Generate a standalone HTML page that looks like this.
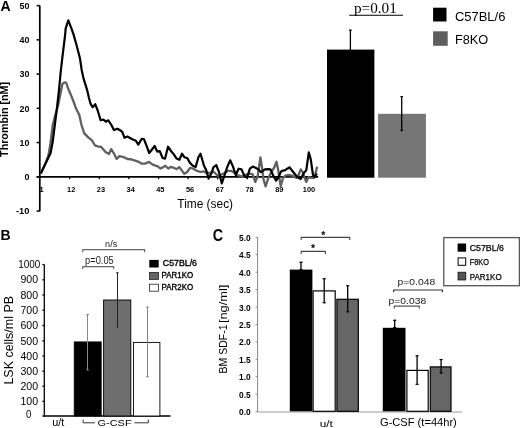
<!DOCTYPE html>
<html><head><meta charset="utf-8"><style>
html,body{margin:0;padding:0;background:#fff;width:520px;height:428px;overflow:hidden;}
svg{display:block;font-family:"Liberation Sans", sans-serif;will-change:transform;}
</style></head><body>
<svg width="520" height="428" viewBox="0 0 520 428">
<rect width="520" height="428" fill="#fff"/>
<text x="0.4" y="10.7" font-size="14.1" font-weight="bold">A</text>
<line x1="39.8" y1="5.6" x2="39.8" y2="211.2" stroke="#000" stroke-width="1.7"/>
<line x1="36.6" y1="5.6" x2="39.8" y2="5.6" stroke="#000" stroke-width="1.5"/>
<text x="29.4" y="9.0" font-size="9.4" font-weight="bold" textLength="9.9" lengthAdjust="spacingAndGlyphs" text-anchor="end">50</text>
<line x1="36.6" y1="39.84" x2="39.8" y2="39.84" stroke="#000" stroke-width="1.5"/>
<text x="29.4" y="43.24" font-size="9.4" font-weight="bold" textLength="9.9" lengthAdjust="spacingAndGlyphs" text-anchor="end">40</text>
<line x1="36.6" y1="74.08" x2="39.8" y2="74.08" stroke="#000" stroke-width="1.5"/>
<text x="29.4" y="77.48" font-size="9.4" font-weight="bold" textLength="9.9" lengthAdjust="spacingAndGlyphs" text-anchor="end">30</text>
<line x1="36.6" y1="108.32" x2="39.8" y2="108.32" stroke="#000" stroke-width="1.5"/>
<text x="29.4" y="111.72" font-size="9.4" font-weight="bold" textLength="9.9" lengthAdjust="spacingAndGlyphs" text-anchor="end">20</text>
<line x1="36.6" y1="142.56" x2="39.8" y2="142.56" stroke="#000" stroke-width="1.5"/>
<text x="29.4" y="145.96" font-size="9.4" font-weight="bold" textLength="9.9" lengthAdjust="spacingAndGlyphs" text-anchor="end">10</text>
<line x1="36.6" y1="176.8" x2="39.8" y2="176.8" stroke="#000" stroke-width="1.5"/>
<text x="29.4" y="180.2" font-size="9.4" font-weight="bold" textLength="5.0" lengthAdjust="spacingAndGlyphs" text-anchor="end">0</text>
<line x1="36.6" y1="211.04" x2="39.8" y2="211.04" stroke="#000" stroke-width="1.5"/>
<text x="29.4" y="214.44" font-size="9.4" font-weight="bold" textLength="13.5" lengthAdjust="spacingAndGlyphs" text-anchor="end">-10</text>
<line x1="36.6" y1="176.8" x2="318.2" y2="176.8" stroke="#000" stroke-width="1.7"/>
<text x="41.48" y="192" font-size="7.4" font-weight="bold" text-anchor="middle">1</text>
<line x1="69.7" y1="176.8" x2="69.7" y2="179.2" stroke="#000" stroke-width="1.3"/>
<text x="71.2" y="192" font-size="7.4" font-weight="bold" text-anchor="middle">12</text>
<line x1="99.3" y1="176.8" x2="99.3" y2="179.2" stroke="#000" stroke-width="1.3"/>
<text x="100.92" y="192" font-size="7.4" font-weight="bold" text-anchor="middle">23</text>
<line x1="128.9" y1="176.8" x2="128.9" y2="179.2" stroke="#000" stroke-width="1.3"/>
<text x="130.64" y="192" font-size="7.4" font-weight="bold" text-anchor="middle">34</text>
<line x1="158.5" y1="176.8" x2="158.5" y2="179.2" stroke="#000" stroke-width="1.3"/>
<text x="160.37" y="192" font-size="7.4" font-weight="bold" text-anchor="middle">45</text>
<line x1="188.1" y1="176.8" x2="188.1" y2="179.2" stroke="#000" stroke-width="1.3"/>
<text x="190.09" y="192" font-size="7.4" font-weight="bold" text-anchor="middle">56</text>
<line x1="217.7" y1="176.8" x2="217.7" y2="179.2" stroke="#000" stroke-width="1.3"/>
<text x="219.81" y="192" font-size="7.4" font-weight="bold" text-anchor="middle">67</text>
<line x1="247.31" y1="176.8" x2="247.31" y2="179.2" stroke="#000" stroke-width="1.3"/>
<text x="249.53" y="192" font-size="7.4" font-weight="bold" text-anchor="middle">78</text>
<line x1="276.91" y1="176.8" x2="276.91" y2="179.2" stroke="#000" stroke-width="1.3"/>
<text x="279.25" y="192" font-size="7.4" font-weight="bold" text-anchor="middle">89</text>
<line x1="306.51" y1="176.8" x2="306.51" y2="179.2" stroke="#000" stroke-width="1.3"/>
<text x="308.98" y="192" font-size="7.4" font-weight="bold" text-anchor="middle">100</text>
<text x="177.3" y="207.9" font-size="12.4" textLength="55.8" lengthAdjust="spacingAndGlyphs">Time (sec)</text>
<text x="8.5" y="156.9" font-size="10.2" font-weight="bold" textLength="75.0" lengthAdjust="spacingAndGlyphs" transform="rotate(-90 8.5 156.9)">Thrombin [nM]</text>
<polyline points="40.8,173.4 45.8,162.5 48.4,155.4 50.5,143.2 52.7,125 55.0,116 58.2,105 62.4,84 64.1,82.6 65.5,82.3 66.5,83.5 68,88.2 72.2,98 76.4,109.3 79.3,114.9 81.5,125 84.3,133.4 88.5,137.6 92,140.4 94.8,145.3 97.8,146.3 101.3,147 105.5,151.9 109,154 111.1,149.1 113.9,153.3 116.7,158.9 119.5,156.1 123.7,157.1 127.5,159 131.2,159.4 135.9,160.8 138.7,161.8 141.5,163.6 145.2,163.6 149,161.8 152.7,164.6 155.6,165.7 157.7,166.4 160.5,168.5 163.3,167.1 165.4,165.7 168.2,168.5 171,166.8 173.8,167.8 176.6,169.2 179.2,167.1 181.5,169.9 184.3,173.8 187.2,172 190,167.8 192.8,168.5 196.3,170.6 200.5,172 203.3,171.3 206.1,172.7 210.6,173 213.4,171.5 216.2,174.3 219,176.5 221.8,174.3 224.6,173 228.1,170.8 230.9,170.8 233.7,172.2 236.5,175 239.3,175.7 242.2,176.5 245,175 247.1,174.3 249.9,173.6 252.7,174.3 255.2,182 257.6,176.5 260.4,157.5 262.5,170.8 263.5,179.3 265.6,186.3 268.4,177.9 271.2,172.2 274,168 276.5,161.7 278.2,170.1 280.7,186.3 283.1,177.9 285.2,175.7 288,175 290.8,175.3 293.6,176.2 296.2,177.9 298.6,175 300.7,169.4 302.8,172.2 304.6,177.9 306.3,182 308.4,177.2 311.2,177.9 314,177.9 315.4,173.6 317.2,166.6" fill="none" stroke="#606060" stroke-width="2.3" stroke-linejoin="round" />
<polyline points="40.8,173.4 50.6,153 52.7,141.8 54.3,129 56.8,109.3 58.9,91 60.6,73 62.4,57.1 65,36 65.7,28.3 68.3,20.3 71.1,27.6 73.6,34.6 76.7,45.8 80,58.5 81.7,70 83.5,78.4 87,89.6 89,98 90.5,103.6 92.6,107.2 95.2,104.2 97.7,110.5 100.6,120.3 103.4,119.6 105.9,121.7 108.3,120.3 111.1,124.5 113.9,130.1 117.4,128.7 120.9,130.8 122.3,131.9 124.5,137.8 127.4,136.5 131.8,139 135.8,140.7 138.3,144.7 141.7,138.8 143.9,139 146.6,145.9 149.2,153 152.2,149.2 154.7,146 157.2,151.6 159.7,151 162.6,158 165.1,158.6 168,146.7 171,151 173.8,154.4 176.6,158.6 179.4,159.8 182,153.7 184.3,157.2 187.2,158 190,162.9 192.8,165.7 195.6,167.1 198.4,157.2 200.5,153.7 204,165.7 206.1,169.9 208.6,178.6 211.3,173.6 213.4,167.3 216.2,165 219,172.2 221.8,183.5 224.6,175 227.4,166.6 230.2,160.3 233,166.6 235.8,175 238.6,168.7 241.5,169.4 244.3,175.7 247.1,177.6 249.9,168.7 252.7,166.6 255.5,167.8 258.3,169.4 261.1,172.2 264.9,169.4 267.7,169.2 270.5,169.4 273.3,175.7 276.1,180.7 278.2,177.9 281,171.5 283.1,170.6 285.2,170.1 287.3,168.7 289.7,167.3 292.2,170.8 295,174.3 297.6,177.2 300.7,179 303.5,173.6 306.3,170.1 308.8,152.3 310.8,159.6 313,175 314.7,177.2 316.8,173.6" fill="none" stroke="#000" stroke-width="2.2" stroke-linejoin="round" />
<rect x="327" y="49.6" width="47.4" height="128.1" fill="#000"/>
<line x1="350.4" y1="29.8" x2="350.4" y2="50" stroke="#000" stroke-width="1.3"/>
<line x1="349.1" y1="30.2" x2="351.7" y2="30.2" stroke="#000" stroke-width="1.2"/>
<rect x="378.1" y="113.8" width="47.8" height="63.9" fill="#767676"/>
<line x1="401.7" y1="96.2" x2="401.7" y2="130.9" stroke="#000" stroke-width="1.3"/>
<line x1="400.4" y1="96.6" x2="403" y2="96.6" stroke="#000" stroke-width="1.2"/>
<line x1="400.4" y1="130.5" x2="403" y2="130.5" stroke="#000" stroke-width="1.2"/>
<text x="354.0" y="12.8" font-size="14.4" textLength="42.8" lengthAdjust="spacingAndGlyphs" font-family='"Liberation Serif", serif'>p=0.01</text>
<line x1="349.2" y1="15.2" x2="403.1" y2="15.2" stroke="#000" stroke-width="1.1"/>
<rect x="433.1" y="7.7" width="13.4" height="13.8" fill="#000"/>
<rect x="433.1" y="31.3" width="14.6" height="14.5" fill="#5e5e5e"/>
<text x="454.9" y="20.7" font-size="12.2" textLength="50.5" lengthAdjust="spacingAndGlyphs">C57BL/6</text>
<text x="454.9" y="43.9" font-size="12.2" textLength="33.4" lengthAdjust="spacingAndGlyphs">F8KO</text>
<text x="0.4" y="240.1" font-size="14.0" font-weight="bold">B</text>
<line x1="44.3" y1="264.5" x2="44.3" y2="416.5" stroke="#000" stroke-width="1.3"/>
<line x1="42.3" y1="264.5" x2="44.3" y2="264.5" stroke="#000" stroke-width="1.2"/>
<text x="29.3" y="268.1" font-size="10" textLength="22.1" lengthAdjust="spacingAndGlyphs" text-anchor="middle">1000</text>
<line x1="42.3" y1="279.8" x2="44.3" y2="279.8" stroke="#000" stroke-width="1.2"/>
<text x="29.3" y="283.4" font-size="10" textLength="17.6" lengthAdjust="spacingAndGlyphs" text-anchor="middle">900</text>
<line x1="42.3" y1="295" x2="44.3" y2="295" stroke="#000" stroke-width="1.2"/>
<text x="29.3" y="298.6" font-size="10" textLength="17.6" lengthAdjust="spacingAndGlyphs" text-anchor="middle">800</text>
<line x1="42.3" y1="310.2" x2="44.3" y2="310.2" stroke="#000" stroke-width="1.2"/>
<text x="29.3" y="313.8" font-size="10" textLength="17.6" lengthAdjust="spacingAndGlyphs" text-anchor="middle">700</text>
<line x1="42.3" y1="325.5" x2="44.3" y2="325.5" stroke="#000" stroke-width="1.2"/>
<text x="29.3" y="329.1" font-size="10" textLength="17.6" lengthAdjust="spacingAndGlyphs" text-anchor="middle">600</text>
<line x1="42.3" y1="340.9" x2="44.3" y2="340.9" stroke="#000" stroke-width="1.2"/>
<text x="29.3" y="344.5" font-size="10" textLength="17.6" lengthAdjust="spacingAndGlyphs" text-anchor="middle">500</text>
<line x1="42.3" y1="356.1" x2="44.3" y2="356.1" stroke="#000" stroke-width="1.2"/>
<text x="29.3" y="359.7" font-size="10" textLength="17.6" lengthAdjust="spacingAndGlyphs" text-anchor="middle">400</text>
<line x1="42.3" y1="371.2" x2="44.3" y2="371.2" stroke="#000" stroke-width="1.2"/>
<text x="29.3" y="374.8" font-size="10" textLength="17.6" lengthAdjust="spacingAndGlyphs" text-anchor="middle">300</text>
<line x1="42.3" y1="386.2" x2="44.3" y2="386.2" stroke="#000" stroke-width="1.2"/>
<text x="29.3" y="389.8" font-size="10" textLength="17.6" lengthAdjust="spacingAndGlyphs" text-anchor="middle">200</text>
<line x1="42.3" y1="401.3" x2="44.3" y2="401.3" stroke="#000" stroke-width="1.2"/>
<text x="29.3" y="404.9" font-size="10" textLength="17.6" lengthAdjust="spacingAndGlyphs" text-anchor="middle">100</text>
<line x1="42.3" y1="416" x2="44.3" y2="416" stroke="#000" stroke-width="1.2"/>
<text x="28.6" y="417.6" font-size="10" textLength="5.3" lengthAdjust="spacingAndGlyphs" text-anchor="middle">0</text>
<line x1="43.7" y1="416.0" x2="170.5" y2="416.0" stroke="#000" stroke-width="1.4"/>
<text x="13.0" y="384.6" font-size="12.2" textLength="88.6" lengthAdjust="spacingAndGlyphs" transform="rotate(-90 13.0 384.6)">LSK cells/ml PB</text>
<rect x="74.2" y="341.9" width="27" height="74.1" fill="#000" stroke="#000" stroke-width="0.8"/>
<rect x="103.6" y="300.0" width="27.2" height="116.0" fill="#6e6e6e" stroke="#000" stroke-width="0.9"/>
<rect x="133.5" y="342.4" width="26.4" height="73.6" fill="#fff" stroke="#000" stroke-width="0.9"/>
<line x1="87.5" y1="314.3" x2="87.5" y2="370.3" stroke="#8a8a8a" stroke-width="1.0"/>
<line x1="86.2" y1="314.6" x2="89" y2="314.6" stroke="#777" stroke-width="0.9"/>
<line x1="86.2" y1="369.9" x2="89" y2="369.9" stroke="#8a8a8a" stroke-width="0.9"/>
<line x1="117.5" y1="272.4" x2="117.5" y2="327.5" stroke="#222" stroke-width="1.0"/>
<line x1="115.9" y1="272.7" x2="118.7" y2="272.7" stroke="#333" stroke-width="0.9"/>
<line x1="116.2" y1="327.2" x2="118.4" y2="327.2" stroke="#333" stroke-width="0.9"/>
<line x1="147.5" y1="306.8" x2="147.5" y2="377.1" stroke="#858585" stroke-width="1.0"/>
<line x1="146.1" y1="307.1" x2="148.9" y2="307.1" stroke="#777" stroke-width="0.9"/>
<line x1="146.1" y1="376.8" x2="148.9" y2="376.8" stroke="#777" stroke-width="0.9"/>
<polyline points="82.7,252.2 82.7,249.7 144.6,249.7 144.6,252.2" fill="none" stroke="#666" stroke-width="1.2" stroke-linejoin="round" />
<polyline points="82.7,269 82.7,266.7 113.7,266.7 113.7,269" fill="none" stroke="#666" stroke-width="1.2" stroke-linejoin="round" />
<text x="105.1" y="247.0" font-size="9.6" textLength="12.1" lengthAdjust="spacingAndGlyphs" fill="#222">n/s</text>
<text x="85.1" y="264.1" font-size="10" textLength="28.6" lengthAdjust="spacingAndGlyphs" fill="#222">p=0.05</text>
<rect x="149.3" y="259.9" width="9.4" height="7.6" fill="#000"/>
<rect x="149.5" y="272.4" width="9.0" height="7.0" fill="#666" stroke="#222" stroke-width="0.8"/>
<rect x="149.5" y="284.2" width="9.0" height="7.0" fill="#fff" stroke="#222" stroke-width="0.8"/>
<text x="162.8" y="265.8" font-size="8.2" textLength="34.2" lengthAdjust="spacingAndGlyphs" stroke="#000" stroke-width="0.35">C57BL/6</text>
<text x="161.6" y="277.8" font-size="8.2" textLength="31.5" lengthAdjust="spacingAndGlyphs" stroke="#000" stroke-width="0.35">PAR1KO</text>
<text x="161.6" y="289.7" font-size="8.2" textLength="31.5" lengthAdjust="spacingAndGlyphs" stroke="#000" stroke-width="0.35">PAR2KO</text>
<text x="52.2" y="426.0" font-size="10" textLength="12.1" lengthAdjust="spacingAndGlyphs">u/t</text>
<text x="97.6" y="425.7" font-size="9.8" textLength="34.0" lengthAdjust="spacingAndGlyphs">G-CSF</text>
<polyline points="83.1,419.5 83.1,422.8 95,422.8" fill="none" stroke="#333" stroke-width="1.0" stroke-linejoin="round" />
<polyline points="134.5,422.8 148.3,422.8 148.3,419.5" fill="none" stroke="#333" stroke-width="1.0" stroke-linejoin="round" />
<text x="212.8" y="240.6" font-size="16" font-weight="bold" textLength="10.3" lengthAdjust="spacingAndGlyphs">C</text>
<line x1="257.6" y1="237.0" x2="257.6" y2="412.0" stroke="#888" stroke-width="1.0"/>
<line x1="255.6" y1="411.6" x2="257.6" y2="411.6" stroke="#888" stroke-width="1.0"/>
<text x="250.6" y="415.2" font-size="8.9" font-weight="bold" textLength="11.6" lengthAdjust="spacingAndGlyphs" text-anchor="end">0.0</text>
<line x1="255.6" y1="394.17" x2="257.6" y2="394.17" stroke="#888" stroke-width="1.0"/>
<text x="250.6" y="397.77" font-size="8.9" font-weight="bold" textLength="11.6" lengthAdjust="spacingAndGlyphs" text-anchor="end">0.5</text>
<line x1="255.6" y1="376.74" x2="257.6" y2="376.74" stroke="#888" stroke-width="1.0"/>
<text x="250.6" y="380.34" font-size="8.9" font-weight="bold" textLength="11.6" lengthAdjust="spacingAndGlyphs" text-anchor="end">1.0</text>
<line x1="255.6" y1="359.31" x2="257.6" y2="359.31" stroke="#888" stroke-width="1.0"/>
<text x="250.6" y="362.91" font-size="8.9" font-weight="bold" textLength="11.6" lengthAdjust="spacingAndGlyphs" text-anchor="end">1.5</text>
<line x1="255.6" y1="341.88" x2="257.6" y2="341.88" stroke="#888" stroke-width="1.0"/>
<text x="250.6" y="345.48" font-size="8.9" font-weight="bold" textLength="11.6" lengthAdjust="spacingAndGlyphs" text-anchor="end">2.0</text>
<line x1="255.6" y1="324.45" x2="257.6" y2="324.45" stroke="#888" stroke-width="1.0"/>
<text x="250.6" y="328.05" font-size="8.9" font-weight="bold" textLength="11.6" lengthAdjust="spacingAndGlyphs" text-anchor="end">2.5</text>
<line x1="255.6" y1="307.02" x2="257.6" y2="307.02" stroke="#888" stroke-width="1.0"/>
<text x="250.6" y="310.62" font-size="8.9" font-weight="bold" textLength="11.6" lengthAdjust="spacingAndGlyphs" text-anchor="end">3.0</text>
<line x1="255.6" y1="289.59" x2="257.6" y2="289.59" stroke="#888" stroke-width="1.0"/>
<text x="250.6" y="293.19" font-size="8.9" font-weight="bold" textLength="11.6" lengthAdjust="spacingAndGlyphs" text-anchor="end">3.5</text>
<line x1="255.6" y1="272.16" x2="257.6" y2="272.16" stroke="#888" stroke-width="1.0"/>
<text x="250.6" y="275.76" font-size="8.9" font-weight="bold" textLength="11.6" lengthAdjust="spacingAndGlyphs" text-anchor="end">4.0</text>
<line x1="255.6" y1="254.73" x2="257.6" y2="254.73" stroke="#888" stroke-width="1.0"/>
<text x="250.6" y="258.33" font-size="8.9" font-weight="bold" textLength="11.6" lengthAdjust="spacingAndGlyphs" text-anchor="end">4.5</text>
<line x1="255.6" y1="237.3" x2="257.6" y2="237.3" stroke="#888" stroke-width="1.0"/>
<text x="250.6" y="240.9" font-size="8.9" font-weight="bold" textLength="11.6" lengthAdjust="spacingAndGlyphs" text-anchor="end">5.0</text>
<line x1="257.6" y1="412.0" x2="462" y2="412.0" stroke="#999" stroke-width="1.0"/>
<text x="227.4" y="373.4" font-size="10" textLength="48.9" lengthAdjust="spacingAndGlyphs" transform="rotate(-90 227.4 373.4)">BM SDF-1</text>
<text x="227.4" y="323.1" font-size="10" textLength="38.4" lengthAdjust="spacingAndGlyphs" transform="rotate(-90 227.4 323.1)">[ng/ml]</text>
<rect x="289.8" y="269.6" width="22.6" height="141.7" fill="#000"/>
<rect x="313.1" y="290.9" width="22.1" height="120.4" fill="#fff" stroke="#000" stroke-width="1.2"/>
<rect x="336.9" y="299.3" width="21.4" height="112.0" fill="#666" stroke="#000" stroke-width="1.2"/>
<rect x="382.8" y="327.8" width="22.7" height="83.5" fill="#000"/>
<rect x="406.9" y="370.4" width="21.3" height="40.9" fill="#fff" stroke="#000" stroke-width="1.2"/>
<rect x="430.3" y="366.9" width="20.7" height="44.4" fill="#666" stroke="#000" stroke-width="1.2"/>
<line x1="301.0" y1="261.8" x2="301.0" y2="270" stroke="#000" stroke-width="1.3"/>
<line x1="299.4" y1="262.3" x2="302.6" y2="262.3" stroke="#000" stroke-width="1.1"/>
<line x1="299.4" y1="269.5" x2="302.6" y2="269.5" stroke="#000" stroke-width="1.1"/>
<line x1="324.2" y1="278.2" x2="324.2" y2="303.2" stroke="#000" stroke-width="1.3"/>
<line x1="322.6" y1="278.7" x2="325.8" y2="278.7" stroke="#000" stroke-width="1.1"/>
<line x1="322.6" y1="302.7" x2="325.8" y2="302.7" stroke="#000" stroke-width="1.1"/>
<line x1="347.7" y1="285.3" x2="347.7" y2="312.3" stroke="#000" stroke-width="1.3"/>
<line x1="346.1" y1="285.8" x2="349.3" y2="285.8" stroke="#000" stroke-width="1.1"/>
<line x1="346.1" y1="311.8" x2="349.3" y2="311.8" stroke="#000" stroke-width="1.1"/>
<line x1="394.7" y1="319.8" x2="394.7" y2="328" stroke="#000" stroke-width="1.3"/>
<line x1="393.1" y1="320.3" x2="396.3" y2="320.3" stroke="#000" stroke-width="1.1"/>
<line x1="393.1" y1="327.5" x2="396.3" y2="327.5" stroke="#000" stroke-width="1.1"/>
<line x1="417.1" y1="355.3" x2="417.1" y2="384.8" stroke="#000" stroke-width="1.3"/>
<line x1="415.5" y1="355.8" x2="418.7" y2="355.8" stroke="#000" stroke-width="1.1"/>
<line x1="415.5" y1="384.3" x2="418.7" y2="384.3" stroke="#000" stroke-width="1.1"/>
<line x1="441.1" y1="359.1" x2="441.1" y2="373.4" stroke="#000" stroke-width="1.3"/>
<line x1="439.5" y1="359.6" x2="442.7" y2="359.6" stroke="#000" stroke-width="1.1"/>
<line x1="439.5" y1="372.9" x2="442.7" y2="372.9" stroke="#000" stroke-width="1.1"/>
<polyline points="301.2,239.9 301.2,237.4 349.8,237.4 349.8,239.9" fill="none" stroke="#444" stroke-width="1.1" stroke-linejoin="round" />
<polyline points="301.2,253.9 301.2,251.4 325.4,251.4 325.4,253.9" fill="none" stroke="#444" stroke-width="1.1" stroke-linejoin="round" />
<text x="323.3" y="238.8" font-size="10.5" font-weight="bold" text-anchor="middle">*</text>
<text x="313.1" y="252.3" font-size="10.5" font-weight="bold" text-anchor="middle">*</text>
<polyline points="393.6,292.2 393.6,290 442.4,290 442.4,292.2" fill="none" stroke="#333" stroke-width="1.2" stroke-linejoin="round" />
<polyline points="394.3,308.4 394.3,306.2 419.3,306.2 419.3,308.4" fill="none" stroke="#555" stroke-width="1.2" stroke-linejoin="round" />
<text x="397.5" y="284.9" font-size="9.6" textLength="37.7" lengthAdjust="spacingAndGlyphs" fill="#1a1a1a">p=0.048</text>
<text x="388.5" y="303.9" font-size="9.6" textLength="37.7" lengthAdjust="spacingAndGlyphs" fill="#1a1a1a">p=0.038</text>
<rect x="443.8" y="237.6" width="75.6" height="48.1" fill="#fff" stroke="#555" stroke-width="1.3"/>
<rect x="457.6" y="243.5" width="8.5" height="8.2" fill="#000"/>
<rect x="458.1" y="257.9" width="7.6" height="7.4" fill="#fff" stroke="#000" stroke-width="1.0"/>
<rect x="458.1" y="272.3" width="7.6" height="7.6" fill="#555" stroke="#222" stroke-width="1.0"/>
<text x="469.7" y="250.6" font-size="8.6" textLength="34.3" lengthAdjust="spacingAndGlyphs" stroke="#000" stroke-width="0.25">C57BL/6</text>
<text x="469.7" y="264.8" font-size="8.6" textLength="19.2" lengthAdjust="spacingAndGlyphs" stroke="#000" stroke-width="0.25">F8KO</text>
<text x="469.7" y="280.0" font-size="8.6" textLength="32.0" lengthAdjust="spacingAndGlyphs" stroke="#000" stroke-width="0.25">PAR1KO</text>
<text x="319.7" y="426.9" font-size="9.8" textLength="13.2" lengthAdjust="spacingAndGlyphs">u/t</text>
<text x="380.0" y="426.4" font-size="10.5" textLength="76.8" lengthAdjust="spacingAndGlyphs">G-CSF (t=44hr)</text>
</svg>
</body></html>
